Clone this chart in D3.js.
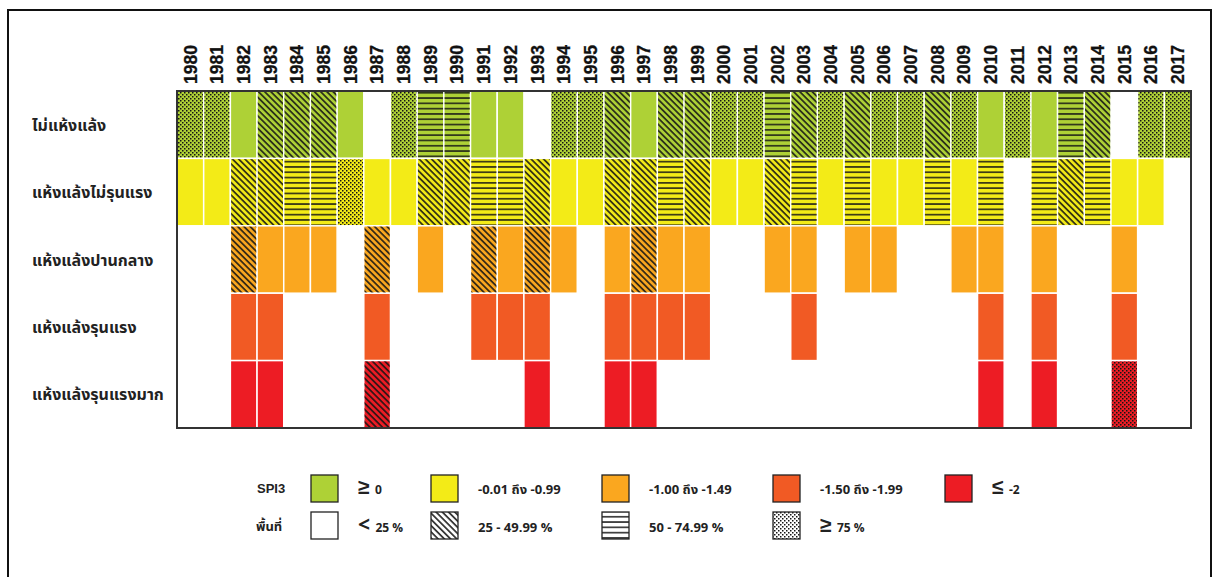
<!DOCTYPE html>
<html>
<head>
<meta charset="utf-8">
<script src="https://cdn.jsdelivr.net/npm/d3@7"></script>
<style>
  body { margin: 0; background: #fff; }
  text { font-family: "Liberation Sans", Arial, sans-serif; }
  .thai { font-family: "Noto Sans Thai", "Tahoma", "Leelawadee UI", "Liberation Sans", sans-serif; }
</style>
</head>
<body>
<div id="chart"></div>
<script>
// years on the top axis
const years = ["1980","1981","1982","1983","1984","1985","1986","1987","1988","1989",
  "1990","1991","1992","1993","1994","1995","1996","1997","1998","1999",
  "2000","2001","2002","2003","2004","2005","2006","2007","2008","2009",
  "2010","2011","2012","2013","2014","2015","2016","2017"];

const rowLabels = ["ไม่แห้งแล้ง", "แห้งแล้งไม่รุนแรง", "แห้งแล้งปานกลาง", "แห้งแล้งรุนแรง", "แห้งแล้งรุนแรงมาก"];
const rowColors = ["#aed136", "#f3eb17", "#faa71f", "#f15a24", "#ed1c24"];

// area code per year: - none, s solid, d 25-49.99 %, h 50-74.99 %, p >= 75 %
const noDrought   = "p p s d d d s - p h h s s - p p d s d d p p h d p d p p d p s p s h d - p p".split(" ");
const mild        = "s s d d h h p s s d d h h d s s d d h d s s d h s h s s h s h - h d h s s -".split(" ");
const moderate    = "- - d s s s - d - s - d s d s - s d s s - - s s - s s - - s s - s - - s - -".split(" ");
const severe      = "- - s s - - - s - - - s s s - - s s s s - - - s - - - - - - s - s - - s - -".split(" ");
const extreme     = "- - s s - - - d - - - - - s - - s s - - - - - - - - - - - - s - s - - p - -".split(" ");
const rowCodes = [noDrought, mild, moderate, severe, extreme];

// legend
const spiLabels = [["≥", "0"], ["", "-0.01 ถึง -0.99"], ["", "-1.00 ถึง -1.49"], ["", "-1.50 ถึง -1.99"], ["≤", "-2"]];
const areaCodes = ["-", "d", "h", "p"];
const areaLabels = [["<", "25 %"], ["", "25 - 49.99 %"], ["", "50 - 74.99 %"], ["≥", "75 %"]];

const W = 1213, H = 577;
const svg = d3.select("#chart").append("svg").attr("width", W).attr("height", H);

// patterns
const defs = svg.append("defs");
const diag = defs.append("pattern").attr("id", "pat-d")
  .attr("patternUnits", "userSpaceOnUse").attr("width", 4.4).attr("height", 4.4)
  .attr("patternTransform", "rotate(45)");
diag.append("rect").attr("width", 4.4).attr("height", 1.8).attr("fill", "#151515").attr("opacity", 0.85);

const horiz = defs.append("pattern").attr("id", "pat-h")
  .attr("patternUnits", "userSpaceOnUse").attr("width", 10).attr("height", 5.3);
horiz.append("rect").attr("y", 1.8).attr("width", 10).attr("height", 1.7).attr("fill", "#151515").attr("opacity", 0.85);

const dots = defs.append("pattern").attr("id", "pat-p")
  .attr("patternUnits", "userSpaceOnUse").attr("width", 4).attr("height", 4);
dots.append("rect").attr("x", 0).attr("y", 0).attr("width", 1.5).attr("height", 1.5).attr("fill", "#151515");
dots.append("rect").attr("x", 2).attr("y", 2).attr("width", 1.5).attr("height", 1.5).attr("fill", "#151515");

// outer frame
svg.append("rect").attr("x", 8).attr("y", 10).attr("width", 1203).attr("height", 620)
  .attr("fill", "#fff").attr("stroke", "#111").attr("stroke-width", 2);

const x = d3.scaleBand().domain(years).range([177, 1191]);
const y = d3.scaleBand().domain(rowLabels).range([91, 428]);

// year labels
svg.append("g").selectAll("text").data(years).enter().append("text")
  .attr("transform", d => "translate(" + (x(d) + x.bandwidth() / 2) + ",84) rotate(-90)")
  .attr("dy", "0.36em")
  .attr("font-size", 17.5).attr("font-weight", "bold").attr("fill", "#111")
  .attr("stroke", "#111").attr("stroke-width", 0.3)
  .text(d => d);

// row labels
svg.append("g").selectAll("text").data(rowLabels).enter().append("text")
  .attr("class", "thai")
  .attr("x", 32).attr("y", d => y(d) + y.bandwidth() / 2 + 6)
  .attr("font-size", 16).attr("font-weight", "bold").attr("fill", "#222")
  .text(d => d);

// cells
const cells = [];
rowCodes.forEach((codes, r) => {
  codes.forEach((c, i) => {
    if (c !== "-") cells.push({ row: rowLabels[r], color: rowColors[r], year: years[i], code: c });
  });
});

const cellG = svg.append("g");
cellG.selectAll(".cell").data(cells).enter().append("rect")
  .attr("class", "cell")
  .attr("x", d => x(d.year)).attr("y", d => y(d.row))
  .attr("width", x.bandwidth()).attr("height", y.bandwidth())
  .attr("fill", d => d.color)
  .attr("stroke", "#fff").attr("stroke-width", 1.5);

cellG.selectAll(".hatch").data(cells.filter(d => d.code !== "s")).enter().append("rect")
  .attr("class", "hatch")
  .attr("x", d => x(d.year) + 0.75).attr("y", d => y(d.row) + 0.75)
  .attr("width", x.bandwidth() - 1.5).attr("height", y.bandwidth() - 1.5)
  .attr("fill", d => "url(#pat-" + d.code + ")");

// plot border
svg.append("rect").attr("x", 177).attr("y", 91).attr("width", 1014).attr("height", 337)
  .attr("fill", "none").attr("stroke", "#333").attr("stroke-width", 2);

// legend columns (first column is narrower)
const legX = [311, 431, 602, 773, 945];
const leg = svg.append("g");

leg.append("text").attr("x", 257).attr("y", 493).attr("font-size", 13).attr("font-weight", "bold")
  .attr("fill", "#222").text("SPI3");
leg.append("text").attr("class", "thai").attr("x", 256).attr("y", 531).attr("font-size", 13).attr("font-weight", "bold")
  .attr("fill", "#222").text("พื้นที่");

leg.selectAll(".spi-box").data(spiLabels).enter().append("rect")
  .attr("x", (d, i) => legX[i]).attr("y", 475).attr("width", 27).attr("height", 27)
  .attr("fill", (d, i) => rowColors[i]).attr("stroke", "#222").attr("stroke-width", 1.3);

leg.selectAll(".area-box").data(areaLabels).enter().append("rect")
  .attr("x", (d, i) => legX[i]).attr("y", 512).attr("width", 27).attr("height", 27)
  .attr("fill", (d, i) => areaCodes[i] === "-" ? "#fff" : "url(#pat-" + areaCodes[i] + ")")
  .attr("stroke", "#222").attr("stroke-width", 1.3);

function legendText(data, yPos) {
  const t = leg.append("g").selectAll("text").data(data).enter().append("text")
    .attr("class", "thai")
    .attr("x", (d, i) => legX[i] + 47).attr("y", yPos)
    .attr("font-weight", "bold").attr("fill", "#222");
  t.filter(d => d[0] !== "").append("tspan").attr("font-size", 21).text(d => d[0] + " ");
  t.append("tspan").attr("font-size", d => d[0] !== "" ? 12 : 13).text(d => d[1]);
}
legendText(spiLabels, 494);
legendText(areaLabels, 532);
</script>
</body>
</html>
